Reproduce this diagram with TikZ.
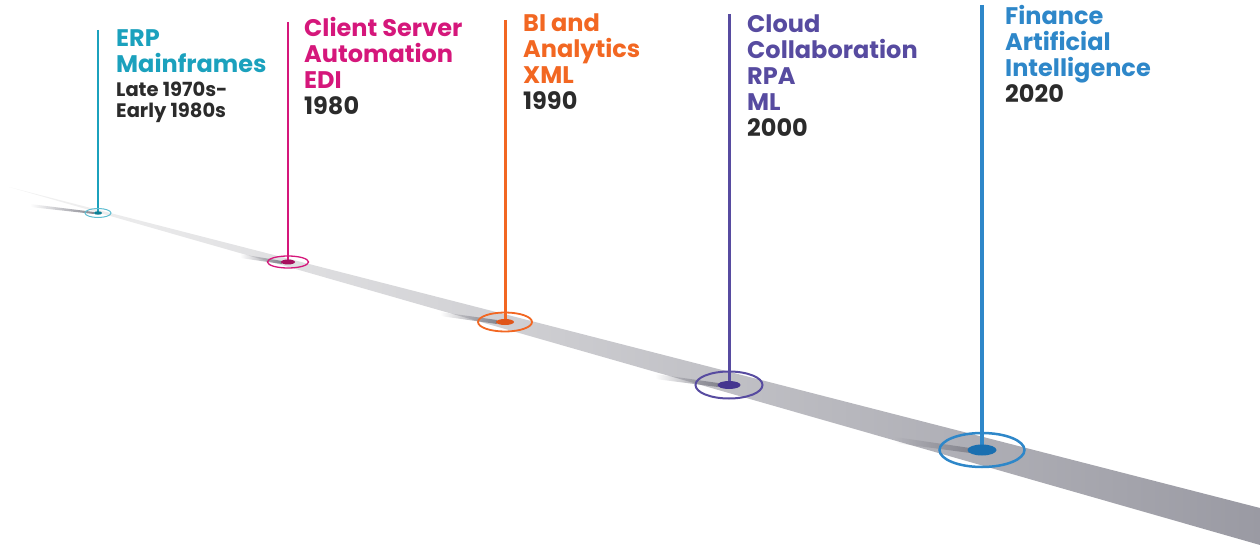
\documentclass[tikz,border=0pt]{standalone}
\usepackage{fontspec}
\setmainfont{Poppins}
\usetikzlibrary{shapes.geometric,fadings}
\definecolor{cTeal}{HTML}{1BA1BD}
\definecolor{cTealD}{HTML}{0E7F95}
\definecolor{cMag}{HTML}{D5177B}
\definecolor{cMagD}{HTML}{A8105E}
\definecolor{cOra}{HTML}{F26722}
\definecolor{cOraD}{HTML}{E0561A}
\definecolor{cPur}{HTML}{574BA0}
\definecolor{cPurD}{HTML}{45358F}
\definecolor{cBlu}{HTML}{2E87C9}
\definecolor{cBluD}{HTML}{1A6FB0}
\definecolor{cDark}{HTML}{2B2B2B}
\definecolor{bandL}{HTML}{F3F3F3}
\definecolor{bandR}{HTML}{9A9AA3}
\definecolor{streak}{HTML}{85858E}
\begin{document}
\begin{tikzpicture}[x=1pt,y=-1pt,
  ttl/.style={anchor=north west, inner sep=0pt, align=left, font=\fontsize{24}{26}\selectfont\bfseries},
  sub/.style={anchor=north west, inner sep=0pt, align=left, font=\fontsize{19.5}{21}\selectfont\bfseries, text=cDark},
  ring/.style={ellipse, draw, inner sep=0pt, fill=none},
  dot/.style={ellipse, inner sep=0pt, draw=none},
  shadowstreak/.style={fill=streak, path fading=west},
]
\useasboundingbox (0,0) rectangle (1260,545);
% band
\shade[left color=bandL, right color=bandR] (9,187) -- (1260,508) -- (1260,545) -- cycle;

% pin base coordinates
\coordinate (erpB) at (98,213);   \coordinate (erpT) at (98,30);
\coordinate (cliB) at (288,262);  \coordinate (cliT) at (288,22);
\coordinate (biB)  at (505,322);  \coordinate (biT)  at (505,20);
\coordinate (clB)  at (729,385);  \coordinate (clT)  at (729,14);
\coordinate (fiB)  at (982,450);  \coordinate (fiT)  at (982,5);

% shadow streaks
\fill[shadowstreak] (30,204) -- (94,212) -- (94,214) -- (30,207) -- cycle;
\fill[shadowstreak] (240,254) -- (282,261) -- (282,264) -- (240,258) -- cycle;
\fill[shadowstreak] (440,312) -- (497,320) -- (497,324) -- (440,316) -- cycle;
\fill[shadowstreak] (655,374) -- (718,383) -- (718,387) -- (655,379) -- cycle;
\fill[shadowstreak] (895,437) -- (970,448) -- (970,453) -- (895,443) -- cycle;

% ERP
\draw[cTeal, line width=2pt] (erpT) -- (erpB);
\node[ring, draw=cTeal!70, line width=1pt, minimum width=26pt, minimum height=9pt] (erpRing) at (erpB) {};
\node[dot, fill=cTealD, minimum width=8pt, minimum height=3.5pt] (erpDot) at (erpB) {};
\node[ttl, text=cTeal] (erpTitle) at (116,29) {ERP\\Mainframes};
\node[sub] (erpDate) at (116,82) {Late 1970s-\\Early 1980s};

% Client Server
\draw[cMag, line width=2.5pt] (cliT) -- (cliB);
\node[ring, draw=cMag, line width=1.3pt, minimum width=41pt, minimum height=12pt] (cliRing) at (cliB) {};
\node[dot, fill=cMagD, minimum width=14pt, minimum height=5pt] (cliDot) at (cliB) {};
\node[ttl, text=cMag] (cliTitle) at (304,17) {Client Server\\Automation\\EDI\\\textcolor{cDark}{1980}};

% BI
\draw[cOra, line width=3pt] (biT) -- (biB);
\node[ring, draw=cOra, line width=1.8pt, minimum width=54pt, minimum height=19pt] (biRing) at (biB) {};
\node[dot, fill=cOraD, minimum width=18pt, minimum height=6pt] (biDot) at (biB) {};
\node[ttl, text=cOra] (biTitle) at (523,14) {BI and\\Analytics\\XML\\\textcolor{cDark}{1990}};

% Cloud
\draw[cPur, line width=3pt] (clT) -- (clB);
\node[ring, draw=cPur, line width=2pt, minimum width=67pt, minimum height=27pt] (clRing) at (clB) {};
\node[dot, fill=cPurD, minimum width=23pt, minimum height=8pt] (clDot) at (clB) {};
\node[ttl, text=cPur] (clTitle) at (747,15) {Cloud\\Collaboration\\RPA\\ML\\\textcolor{cDark}{2000}};

% Finance
\draw[cBlu, line width=3.5pt] (fiT) -- (fiB);
\node[ring, draw=cBlu, line width=2.5pt, minimum width=85pt, minimum height=34pt] (fiRing) at (fiB) {};
\node[dot, fill=cBluD, minimum width=29pt, minimum height=11pt] (fiDot) at (fiB) {};
\node[ttl, text=cBlu] (fiTitle) at (1005,5) {Finance\\Artificial\\Intelligence\\\textcolor{cDark}{2020}};
\end{tikzpicture}
\end{document}
